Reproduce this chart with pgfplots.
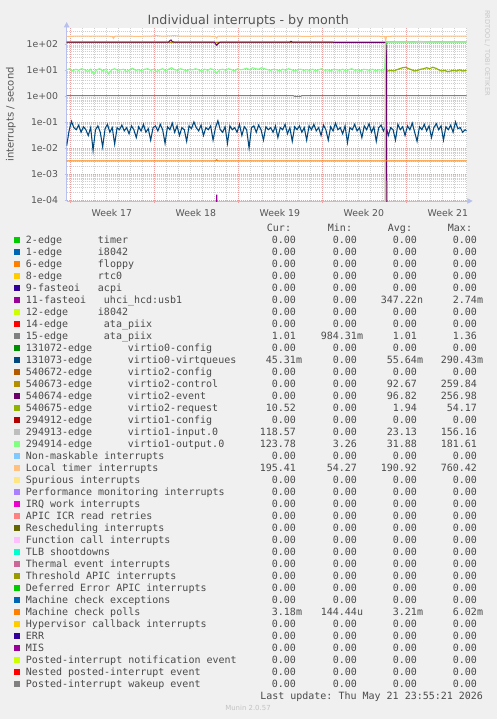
\documentclass[border=0pt]{standalone}
\usepackage{pgfplots}
\pgfplotsset{compat=1.18}
\usepackage{fontspec}
\setmainfont{DejaVu Sans}
\newfontfamily\monofam{DejaVu Sans Mono}
\usetikzlibrary{arrows.meta}
\frenchspacing
\definecolor{bg}{HTML}{F0F0F0}
\definecolor{axcol}{HTML}{B8C0EE}
\definecolor{majgrid}{HTML}{E8A0A0}
\definecolor{mingrid}{HTML}{CFCFCF}
\definecolor{labcol}{HTML}{555555}
\definecolor{legcol}{HTML}{4A4A4A}
\definecolor{cTimer}{HTML}{FFC080}
\definecolor{cEvent}{HTML}{6B006B}
\definecolor{cCtrl}{HTML}{B38F00}
\definecolor{cOut}{HTML}{80FF80}
\definecolor{cIn}{HTML}{BEBEBE}
\definecolor{cReq}{HTML}{8FB300}
\definecolor{cAta}{HTML}{808080}
\definecolor{cVq}{HTML}{00487D}
\definecolor{cMcp}{HTML}{FF8000}
\definecolor{cUhci}{HTML}{990099}
\newcommand\mono{\fontsize{7.5}{9}\selectfont\monofam\frenchspacing}
\newcommand\z{0.00\phantom{m}}
\newcommand\p[1]{#1\phantom{m}}
\newcommand\lrow[9]{%
  \pgfmathsetmacro\ry{243.6+12*(#1-1)}%
  \node[anchor=center,inner sep=0] at (17.3,\ry-3.9) {\textcolor[HTML]{#2}{\rule{4.5pt}{4.5pt}}};%
  \node[anchor=base west,inner sep=0] at (25.7,\ry) {\mono #3};%
  \node[anchor=base west,inner sep=0] at (#4,\ry) {\mono #5};%
  \node[anchor=base east,inner sep=0] at (302.3,\ry) {\mono #6};%
  \node[anchor=base east,inner sep=0] at (363.3,\ry) {\mono #7};%
  \node[anchor=base east,inner sep=0] at (423.3,\ry) {\mono #8};%
  \node[anchor=base east,inner sep=0] at (483.3,\ry) {\mono #9};%
}
\begin{document}
\begin{tikzpicture}
\path[use as bounding box, fill=bg] (0,0) rectangle (372.75pt,-539.25pt);
\begin{axis}[
  at={(50.0pt,-21pt)}, anchor=north west,
  scale only axis, width=300pt, height=129.75pt,
  xmin=0, xmax=33.333, ymode=log, ymin=9.15e-5, ymax=402,
  axis background/.style={fill=white},
  axis lines=left,
  axis line style={draw=axcol, line width=0.6pt},
  x axis line style={-{Triangle[length=4pt,width=4pt]}, shorten >=-4.5pt},
  y axis line style={-{Triangle[length=4pt,width=4pt]}, shorten >=-4.5pt},
  xtick={0.27,7.27,14.27,21.27,28.27},
  xticklabels={},
  minor xtick={1.27,2.27,3.27,4.27,5.27,6.27,8.27,9.27,10.27,11.27,12.27,13.27,15.27,16.27,17.27,18.27,19.27,20.27,22.27,23.27,24.27,25.27,26.27,27.27,29.27,30.27,31.27,32.27,33.27},
  extra x ticks={3.77,10.77,17.77,24.77,31.77},
  extra x tick labels={Week 17,Week 18,Week 19,Week 20,Week 21},
  extra x tick style={grid=none, major tick length=0pt, xticklabel style={yshift=-3pt}},
  ytick={1e-4,1e-3,1e-2,1e-1,1,10,100},
  yticklabels={1e-04,1e-03,1e-02,1e-01,1e+00,1e+01,1e+02},
  minor ytick={2e-4,3e-4,4e-4,5e-4,6e-4,7e-4,8e-4,9e-4,2e-3,3e-3,4e-3,5e-3,6e-3,7e-3,8e-3,9e-3,2e-2,3e-2,4e-2,5e-2,6e-2,7e-2,8e-2,9e-2,0.2,0.3,0.4,0.5,0.6,0.7,0.8,0.9,2,3,4,5,6,7,8,9,20,30,40,50,60,70,80,90,200,300},
  grid=both,
  major grid style={draw=majgrid, dash pattern=on 0.75pt off 0.75pt, line width=0.5pt},
  minor grid style={draw=mingrid, dash pattern=on 0.75pt off 0.75pt, line width=0.5pt},
  tick label style={font=\fontsize{7}{8}\selectfont, text=labcol},
  yticklabel style={xshift=-1.5pt},
  tick align=outside, major tick length=1.5pt, minor tick length=0pt,
  xtick style={draw=majgrid}, ytick style={draw=axcol},
  clip=true,
]
% 11-fasteoi uhci_hcd:usb1
\addplot[draw=cUhci, line width=0.9pt, no marks] coordinates {(0,1e-6) (12.45,1e-6) (12.5,1.6e-4) (12.55,1e-6) (33.333,1e-6)};
% 15-edge ata_piix
\addplot[draw=cAta, line width=0.75pt, no marks] coordinates {(0,1.01) (7.9,1.01) (8,1.03) (8.1,1.01) (18.9,1.01) (19.0,0.96) (19.5,0.96) (19.6,1.01) (33.333,1.01)};
% 131073-edge virtio0-virtqueues
\addplot[draw=cVq, line width=0.8pt, no marks] coordinates {
(0,0.012)(0.2,0.045)(0.4,0.105)(0.6,0.06)(0.8,0.05)
(1,0.075)(1.2,0.04)(1.4,0.065)(1.6,0.05)(1.8,0.03)
(2,0.06)(2.2,0.008)(2.4,0.05)(2.6,0.07)(2.8,0.04)
(3,0.011)(3.2,0.055)(3.4,0.08)(3.6,0.04)(3.8,0.06)
(4,0.014)(4.2,0.06)(4.4,0.05)(4.6,0.075)(4.8,0.045)
(5,0.06)(5.2,0.035)(5.4,0.07)(5.6,0.05)(5.8,0.025)
(6,0.065)(6.2,0.045)(6.4,0.08)(6.6,0.04)(6.8,0.055)
(7,0.02)(7.2,0.06)(7.4,0.07)(7.6,0.045)(7.8,0.08)
(8,0.05)(8.2,0.015)(8.4,0.065)(8.6,0.05)(8.8,0.09)
(9,0.04)(9.2,0.07)(9.4,0.03)(9.6,0.06)(9.8,0.05)
(10,0.018)(10.2,0.07)(10.4,0.055)(10.6,0.1)(10.8,0.06)
(11,0.045)(11.2,0.075)(11.4,0.03)(11.6,0.06)(11.8,0.05)
(12,0.07)(12.2,0.02)(12.4,0.06)(12.6,0.11)(12.8,0.05)
(13,0.04)(13.2,0.065)(13.4,0.015)(13.6,0.07)(13.8,0.05)
(14,0.06)(14.2,0.04)(14.4,0.08)(14.6,0.03)(14.8,0.065)
(15,0.05)(15.2,0.01)(15.4,0.06)(15.6,0.07)(15.8,0.04)
(16,0.075)(16.2,0.05)(16.4,0.02)(16.6,0.065)(16.8,0.05)
(17,0.06)(17.2,0.04)(17.4,0.07)(17.6,0.025)(17.8,0.06)
(18,0.05)(18.2,0.08)(18.4,0.035)(18.6,0.06)(18.8,0.018)
(19,0.065)(19.2,0.05)(19.4,0.07)(19.6,0.04)(19.8,0.06)
(20,0.02)(20.2,0.07)(20.4,0.05)(20.6,0.08)(20.8,0.045)
(21,0.06)(21.2,0.03)(21.4,0.075)(21.6,0.05)(21.8,0.02)
(22,0.065)(22.2,0.045)(22.4,0.09)(22.6,0.05)(22.8,0.06)
(23,0.035)(23.2,0.07)(23.4,0.016)(23.6,0.06)(23.8,0.05)
(24,0.08)(24.2,0.045)(24.4,0.06)(24.6,0.025)(24.8,0.07)
(25,0.05)(25.2,0.085)(25.4,0.04)(25.6,0.065)(25.8,0.018)
(26,0.06)(26.2,0.075)(26.4,0.045)(26.6,0.07)(26.8,0.03)
(27,0.06)(27.2,0.05)(27.4,0.02)(27.6,0.08)(27.8,0.05)
(28,0.065)(28.2,0.03)(28.4,0.07)(28.6,0.05)(28.8,0.09)
(29,0.04)(29.2,0.018)(29.4,0.065)(29.6,0.05)(29.8,0.08)
(30,0.045)(30.2,0.07)(30.4,0.025)(30.6,0.06)(30.8,0.085)
(31,0.05)(31.2,0.07)(31.4,0.02)(31.6,0.065)(31.8,0.05)
(32,0.075)(32.2,0.04)(32.4,0.1)(32.6,0.055)(32.8,0.06)
(33,0.04)(33.2,0.05)(33.333,0.045)};
% 540673-edge virtio2-control
\addplot[draw=cCtrl, line width=0.9pt, no marks] coordinates {(0,115) (26.56,115) (26.58,1e-6) (33.333,1e-6)};
% 540675-edge virtio2-request
\addplot[draw=cReq, line width=0.9pt, no marks] coordinates {(0,1e-6) (26.58,1e-6) (26.6,8.5) (26.75,9) (27,9.5) (27.25,9) (27.5,10) (27.75,11) (28,12) (28.25,12.5) (28.5,11) (28.75,10) (29,9) (29.25,9.5) (29.5,10.5) (29.75,11) (30,12) (30.25,11) (30.5,12.5) (30.75,11.5) (31,10) (31.25,9) (31.5,9.5) (31.75,8.5) (32,9) (32.25,9.5) (32.5,9) (32.75,10) (33,9) (33.333,9.5)};
% 294913-edge virtio1-input.0
\addplot[draw=cIn, line width=1.2pt, no marks] coordinates {(0,1e-6) (26.56,1e-6) (26.58,118) (33.333,118)};
% 540674-edge virtio2-event
\addplot[draw=cEvent, line width=0.75pt, no marks] coordinates {(0,115) (8.5,115) (8.6,132) (8.7,140) (8.8,120) (9.0,115) (12.3,115) (12.4,100) (12.5,88) (12.6,98) (12.7,110) (12.8,115) (18.6,115) (18.7,124) (18.8,115) (26.66,113) (26.68,1e-6) (33.333,1e-6)};
% 294914-edge virtio1-output.0
\addplot[draw=cOut, line width=0.8pt, no marks] coordinates {
(0,10)(0.25,11)(0.5,9)(0.75,10.5)
(1,9.5)(1.25,11)(1.5,10)(1.75,8.5)
(2,10.5)(2.25,6.8)(2.5,10)(2.75,11)
(3,9)(3.25,10.5)(3.5,7)(3.75,10)
(4,11)(4.25,9.5)(4.5,10)(4.75,10.5)
(5,8.5)(5.25,10)(5.5,11.5)(5.75,9.5)
(6,10)(6.25,9)(6.5,10.5)(6.75,11)
(7,9.5)(7.25,10.5)(7.5,8.5)(7.75,10)
(8,11)(8.25,9)(8.5,10.5)(8.75,12)
(9,10)(9.25,9.5)(9.5,11)(9.75,10)
(10,9)(10.25,10.5)(10.5,10)(10.75,11)
(11,10)(11.25,8.8)(11.5,10.5)(11.75,9.5)
(12,11)(12.25,10)(12.5,7.5)(12.75,10)
(13,10.5)(13.25,9.5)(13.5,11)(13.75,10)
(14,9)(14.25,11)(14.5,10)(14.75,10.5)
(15,11.5)(15.25,10)(15.5,12)(15.75,11)
(16,10.5)(16.25,12)(16.5,11)(16.75,10)
(17,9.5)(17.25,10.5)(17.5,10)(17.75,9)
(18,10.5)(18.25,9.5)(18.5,11)(18.75,10)
(19,9)(19.25,10)(19.5,10.5)(19.75,9.5)
(20,10)(20.25,9.5)(20.5,10.5)(20.75,9)
(21,10)(21.25,11)(21.5,9.5)(21.75,10)
(22,9)(22.25,10.5)(22.5,10)(22.75,9.5)
(23,10.5)(23.25,9)(23.5,10)(23.75,11)
(24,9.5)(24.25,10)(24.5,9)(24.75,10.5)
(25,10)(25.25,9.5)(25.5,10.5)(25.75,9)
(26,10)(26.25,9.5)(26.5,10)
(26.62,115)(27,116)(28,117)(29,116)(29.5,122)(30,117)(31,116)(32,117)(33.333,117)};
% Local timer interrupts
\addplot[draw=cTimer, line width=0.75pt, no marks] coordinates {(0,193) (1,195) (2,194) (3,196) (3.8,193) (3.9,160) (4.0,194) (5,195) (6,193) (7,196) (7.5,205) (8,195) (8.5,200) (9,205) (9.5,196) (10,195) (11,196) (12,194) (12.4,190) (12.5,165) (12.6,194) (13,195) (14,194) (15,196) (16,195) (17,194) (18,196) (19,195) (20,193) (21,195) (22,196) (23,194) (24,195) (25,196) (26,195) (26.5,190) (26.58,130) (26.66,190) (27,194) (28,196) (29,195) (30,194) (31,196) (32,195) (33.333,195)};
% Machine check polls
\addplot[draw=cMcp, line width=0.8pt, no marks] coordinates {(0,0.0032) (12.4,0.0032) (12.5,0.0035) (12.6,0.0032) (33.333,0.0032)};
\end{axis}
\begin{scope}[x=0.75pt,y=-0.75pt]
\node[anchor=base, inner sep=0, text=labcol, font=\fontsize{9.5}{11}\selectfont] at (248.3,24) {Individual interrupts - by month};
\node[rotate=90, anchor=center, inner sep=0, text=labcol, font=\fontsize{7.5}{9}\selectfont] at (10.8,114.5) {interrupts / second};
\node[rotate=-90, anchor=center, inner sep=0, text={rgb,255:red,200;green,200;blue,200}, font=\fontsize{5}{6}\selectfont] at (487.3,53) {RRDTOOL / TOBI OETIKER};
\begin{scope}[text=legcol]
\node[anchor=base east, inner sep=0] at (291.3,231) {\mono Cur:};
\node[anchor=base east, inner sep=0] at (352.3,231) {\mono Min:};
\node[anchor=base east, inner sep=0] at (412.3,231) {\mono Avg:};
\node[anchor=base east, inner sep=0] at (472.3,231) {\mono Max:};
\lrow{1}{00CC00}{2-edge}{97.7}{timer}{\z}{\z}{\z}{\z}
\lrow{2}{0066B3}{1-edge}{97.7}{i8042}{\z}{\z}{\z}{\z}
\lrow{3}{FF8000}{6-edge}{97.7}{floppy}{\z}{\z}{\z}{\z}
\lrow{4}{FFCC00}{8-edge}{97.7}{rtc0}{\z}{\z}{\z}{\z}
\lrow{5}{330099}{9-fasteoi}{97.7}{acpi}{\z}{\z}{\z}{\z}
\lrow{6}{990099}{11-fasteoi}{103.7}{uhci\_hcd:usb1}{\z}{\z}{347.22n}{2.74m}
\lrow{7}{CCFF00}{12-edge}{97.7}{i8042}{\z}{\z}{\z}{\z}
\lrow{8}{FF0000}{14-edge}{103.7}{ata\_piix}{\z}{\z}{\z}{\z}
\lrow{9}{808080}{15-edge}{103.7}{ata\_piix}{\p{1.01}}{984.31m}{\p{1.01}}{\p{1.36}}
\lrow{10}{008F00}{131072-edge}{127.7}{virtio0-config}{\z}{\z}{\z}{\z}
\lrow{11}{00487D}{131073-edge}{127.7}{virtio0-virtqueues}{45.31m}{\z}{55.64m}{290.43m}
\lrow{12}{B35A00}{540672-edge}{127.7}{virtio2-config}{\z}{\z}{\z}{\z}
\lrow{13}{B38F00}{540673-edge}{127.7}{virtio2-control}{\z}{\z}{\p{92.67}}{\p{259.84}}
\lrow{14}{6B006B}{540674-edge}{127.7}{virtio2-event}{\z}{\z}{\p{96.82}}{\p{256.98}}
\lrow{15}{8FB300}{540675-edge}{127.7}{virtio2-request}{\p{10.52}}{\z}{\p{1.94}}{\p{54.17}}
\lrow{16}{B30000}{294912-edge}{127.7}{virtio1-config}{\z}{\z}{\z}{\z}
\lrow{17}{BEBEBE}{294913-edge}{127.7}{virtio1-input.0}{\p{118.57}}{\z}{\p{23.13}}{\p{156.16}}
\lrow{18}{80FF80}{294914-edge}{127.7}{virtio1-output.0}{\p{123.78}}{\p{3.26}}{\p{31.88}}{\p{181.61}}
\lrow{19}{80C9FF}{Non-maskable interrupts}{97.7}{}{\z}{\z}{\z}{\z}
\lrow{20}{FFC080}{Local timer interrupts}{97.7}{}{\p{195.41}}{\p{54.27}}{\p{190.92}}{\p{760.42}}
\lrow{21}{FFE680}{Spurious interrupts}{97.7}{}{\z}{\z}{\z}{\z}
\lrow{22}{AA80FF}{Performance monitoring interrupts}{97.7}{}{\z}{\z}{\z}{\z}
\lrow{23}{EE00CC}{IRQ work interrupts}{97.7}{}{\z}{\z}{\z}{\z}
\lrow{24}{FF8080}{APIC ICR read retries}{97.7}{}{\z}{\z}{\z}{\z}
\lrow{25}{666600}{Rescheduling interrupts}{97.7}{}{\z}{\z}{\z}{\z}
\lrow{26}{FFBFFF}{Function call interrupts}{97.7}{}{\z}{\z}{\z}{\z}
\lrow{27}{00FFCC}{TLB shootdowns}{97.7}{}{\z}{\z}{\z}{\z}
\lrow{28}{CC6699}{Thermal event interrupts}{97.7}{}{\z}{\z}{\z}{\z}
\lrow{29}{999900}{Threshold APIC interrupts}{97.7}{}{\z}{\z}{\z}{\z}
\lrow{30}{00CC00}{Deferred Error APIC interrupts}{97.7}{}{\z}{\z}{\z}{\z}
\lrow{31}{0066B3}{Machine check exceptions}{97.7}{}{\z}{\z}{\z}{\z}
\lrow{32}{FF8000}{Machine check polls}{97.7}{}{3.18m}{144.44u}{3.21m}{6.02m}
\lrow{33}{FFCC00}{Hypervisor callback interrupts}{97.7}{}{\z}{\z}{\z}{\z}
\lrow{34}{330099}{ERR}{97.7}{}{\z}{\z}{\z}{\z}
\lrow{35}{990099}{MIS}{97.7}{}{\z}{\z}{\z}{\z}
\lrow{36}{CCFF00}{Posted-interrupt notification event}{97.7}{}{\z}{\z}{\z}{\z}
\lrow{37}{FF0000}{Nested posted-interrupt event}{97.7}{}{\z}{\z}{\z}{\z}
\lrow{38}{808080}{Posted-interrupt wakeup event}{97.7}{}{\z}{\z}{\z}{\z}
\node[anchor=base east, inner sep=0] at (483.3,699) {\mono Last update: Thu May 21 23:55:21 2026};
\end{scope}
\node[anchor=center, inner sep=0, text={rgb,255:red,195;green,195;blue,195}, font=\fontsize{5.2}{6}\selectfont] at (248,707.7) {Munin 2.0.57};
\end{scope}
\end{tikzpicture}
\end{document}
